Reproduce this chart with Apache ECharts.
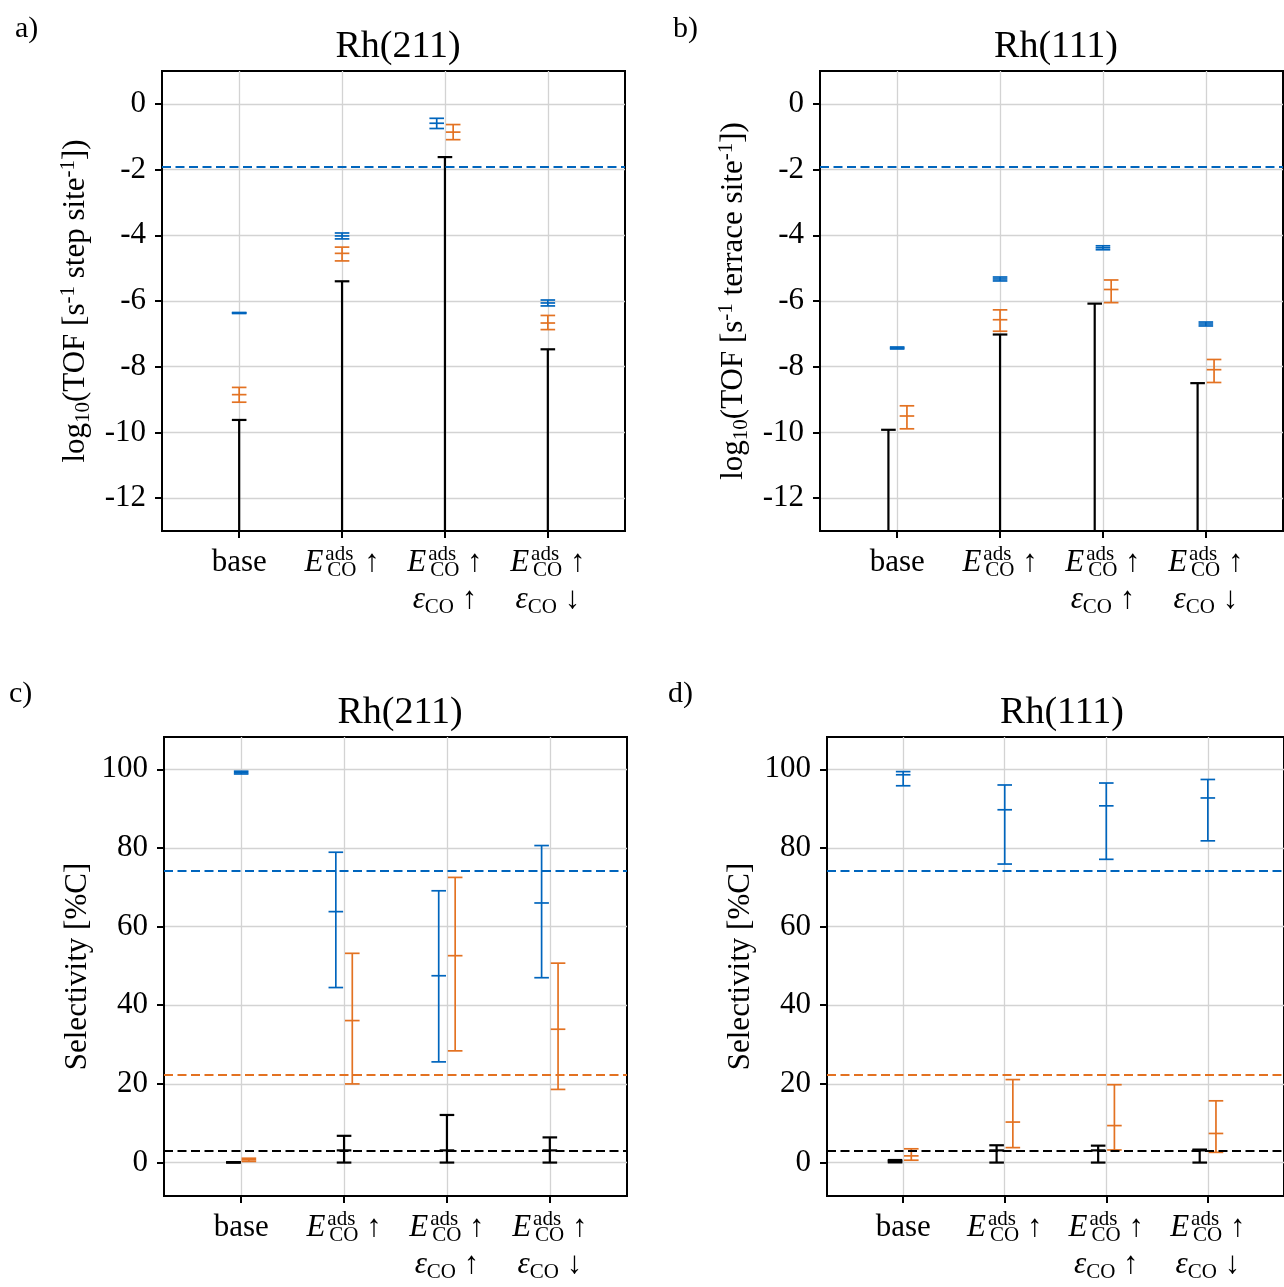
<!DOCTYPE html>
<html>
<head>
<meta charset="utf-8">
<script src="https://cdn.jsdelivr.net/npm/echarts@6/dist/echarts.min.js"></script>
<style>
  html, body { margin: 0; background: #fff; }
  #chart { width: 1284px; height: 1287px; }
</style>
</head>
<body>
<div id="chart"></div>
<script>
// categories and ticks
const categories = ['base', 'Eads_up', 'Eads_up_eps_up', 'Eads_up_eps_down'];
const catTicks = [0, 1, 2, 3];
const tofTicks = [0, -2, -4, -6, -8, -10, -12];
const selTicks = [0, 20, 40, 60, 80, 100];

// error bars as [low, mid, high] per category
const tof211Black = [[-16, -16, -9.62], [-16, -16, -5.40], [-16, -16, -1.62], [-16, -16, -7.47]];
const tof211Blue = [[-6.38, -6.36, -6.35], [-4.11, -4.02, -3.93], [-0.75, -0.59, -0.44], [-6.15, -6.06, -5.97]];
const tof211Orange = [[-9.08, -8.85, -8.63], [-4.78, -4.55, -4.36], [-1.09, -0.86, -0.63], [-6.87, -6.67, -6.44]];

const tof111Black = [[-16, -16, -9.92], [-16, -16, -7.02], [-16, -16, -6.08], [-16, -16, -8.50]];
const tof111Blue = [[-7.46, -7.43, -7.40], [-5.39, -5.33, -5.27], [-4.44, -4.38, -4.32], [-6.76, -6.70, -6.64]];
const tof111Orange = [[-9.89, -9.50, -9.19], [-6.92, -6.57, -6.27], [-6.05, -5.65, -5.36], [-8.48, -8.09, -7.78]];

const sel211Black = [[0, 0.05, 0.1], [0, 3.1, 6.8], [0, 3.1, 12.1], [0, 3.1, 6.4]];
const sel211Blue = [[98.8, 99.15, 99.5], [44.5, 63.8, 78.9], [25.6, 47.5, 69.1], [47.0, 66.0, 80.6]];
const sel211Orange = [[0.3, 0.7, 1.1], [20.0, 36.1, 53.2], [28.4, 52.6, 72.5], [18.6, 33.9, 50.7]];

const sel111Black = [[0.05, 0.35, 0.65], [0, 3.1, 4.4], [0, 3.1, 4.3], [0, 3.1, 3.3]];
const sel111Blue = [[95.8, 98.6, 99.4], [75.9, 89.7, 96.0], [77.1, 90.7, 96.5], [81.8, 92.7, 97.4]];
const sel111Orange = [[0.6, 1.7, 3.5], [3.8, 10.3, 21.1], [3.2, 9.4, 19.8], [2.6, 7.4, 15.7]];

// reference (dashed) levels
const tofRefBlue = -1.92;
const selRefBlue = 74.2;
const selRefOrange = 22.4;
const selRefBlack = 3.1;

// side-by-side dodge of the bars, in category units
const dodge211Tof = { black: [0, 0, 0, 0], blue: [0, 0, -0.08, 0], orange: [0, 0, 0.08, 0] };
const dodge111Tof = { black: [-0.085, 0, -0.08, -0.08], blue: [0, 0, 0, 0], orange: [0.095, 0, 0.08, 0.08] };
const dodge211Sel = { black: [-0.075, 0, 0, 0], blue: [0, -0.08, -0.08, -0.08], orange: [0.075, 0.08, 0.08, 0.08] };
const dodge111Sel = { black: [-0.08, -0.08, -0.08, -0.08], blue: [0, 0, 0, 0], orange: [0.08, 0.08, 0.08, 0.08] };

const BLUE = '#0065BD';
const ORANGE = '#E37222';
const BLACK = '#000000';
const FONT = '"Liberation Serif", "DejaVu Serif", serif';

// first line tokens are laid out from the left so that "ads" and "CO" can stack,
// the second line is centred
const labelText = {
  base: 'base',
  Eads_up: '{it|E}{sup|ads}{sub|CO}{rm| ↑}',
  Eads_up_eps_up: '{it|E}{sup|ads}{sub|CO}{rm| ↑}\n{it2|ε}{sub2|CO}{rm2| ↑}',
  Eads_up_eps_down: '{it|E}{sup|ads}{sub|CO}{rm| ↑}\n{it2|ε}{sub2|CO}{rm2| ↓}'
};

const richLabel = {
  it: { fontStyle: 'italic', fontSize: 31, lineHeight: 37, align: 'left', fontFamily: FONT, color: '#000' },
  rm: { fontSize: 31, lineHeight: 37, align: 'left', fontFamily: FONT, color: '#000' },
  sup: { fontSize: 21, lineHeight: 21, verticalAlign: 'top', align: 'left', width: 2, padding: [0, 0, 0, 2], fontFamily: FONT, color: '#000' },
  sub: { fontSize: 21, lineHeight: 14, verticalAlign: 'bottom', align: 'left', fontFamily: FONT, color: '#000' },
  it2: { fontStyle: 'italic', fontSize: 31, lineHeight: 37, fontFamily: FONT, color: '#000' },
  rm2: { fontSize: 31, lineHeight: 37, fontFamily: FONT, color: '#000' },
  sub2: { fontSize: 21, lineHeight: 16, verticalAlign: 'bottom', fontFamily: FONT, color: '#000' }
};

const richName = {
  sup: { fontSize: 21, lineHeight: 21, verticalAlign: 'top', fontFamily: FONT, color: '#000' },
  sub: { fontSize: 21, lineHeight: 14, verticalAlign: 'bottom', fontFamily: FONT, color: '#000' }
};

const grids = [
  { left: 162, top: 71, width: 463, height: 460 },
  { left: 820, top: 71, width: 463, height: 460 },
  { left: 164, top: 737, width: 463, height: 459 },
  { left: 827, top: 737, width: 462, height: 459 }
];

function toPoints(values, dodge) {
  return values.map((v, i) => [catTicks[i] + dodge[i], v[0], v[1], v[2]]);
}

function errorBar(color, lineWidth, capHalf) {
  return function (params, api) {
    const x = api.value(0);
    const lo = api.coord([x, api.value(1)]);
    const mid = api.coord([x, api.value(2)]);
    const hi = api.coord([x, api.value(3)]);
    const style = { stroke: color, lineWidth: lineWidth };
    const cap = p => ({
      type: 'line',
      shape: { x1: p[0] - capHalf, y1: p[1], x2: p[0] + capHalf, y2: p[1] },
      style: style
    });
    return {
      type: 'group',
      children: [
        { type: 'line', shape: { x1: lo[0], y1: lo[1], x2: hi[0], y2: hi[1] }, style: style },
        cap(lo), cap(mid), cap(hi)
      ]
    };
  };
}

function refLine(color, value) {
  return {
    silent: true,
    symbol: 'none',
    label: { show: false },
    lineStyle: { color: color, type: [9, 4.5], width: 2 },
    data: [{ yAxis: value }]
  };
}

function barSeries(gi, values, dodge, color, width, ref) {
  const s = {
    type: 'custom',
    xAxisIndex: gi,
    yAxisIndex: gi,
    clip: true,
    renderItem: errorBar(color, width, 7.3),
    encode: { x: 0, y: [1, 2, 3] },
    data: toPoints(values, dodge),
    z: 3
  };
  if (ref != null) s.markLine = refLine(color, ref);
  return s;
}

const axisLineStyle = { show: true, onZero: false, lineStyle: { color: '#000', width: 2 } };
const tickStyle = { color: '#000', width: 2 };

function xAxisFor(gi) {
  return {
    type: 'value',
    gridIndex: gi,
    min: -0.75,
    max: 3.75,
    axisLine: axisLineStyle,
    axisTick: { show: true, inside: false, customValues: catTicks, length: 7, lineStyle: tickStyle },
    axisLabel: {
      customValues: catTicks,
      formatter: v => labelText[categories[Math.round(v)]],
      margin: 13,
      color: '#000',
      fontFamily: FONT,
      fontSize: 31,
      lineHeight: 37,
      rich: richLabel
    },
    splitLine: { show: true, lineStyle: { color: '#d3d3d3', width: 1.3 } }
  };
}

function yAxisFor(gi, min, max, ticks, name) {
  return {
    type: 'value',
    gridIndex: gi,
    min: min,
    max: max,
    axisLine: axisLineStyle,
    axisTick: { show: true, inside: false, customValues: ticks, length: 7, lineStyle: tickStyle },
    axisLabel: { customValues: ticks, margin: 16, color: '#000', fontFamily: FONT, fontSize: 31 },
    splitLine: { show: true, lineStyle: { color: '#d3d3d3', width: 1.3 } },
    name: name,
    nameLocation: 'middle',
    nameRotate: 90,
    nameGap: 68,
    nameTextStyle: { color: '#000', fontFamily: FONT, fontSize: 31, lineHeight: 36, rich: richName }
  };
}

const tofName = 'log{sub|10}(TOF [s{sup|-1} step site{sup|-1}])';
const tofName111 = 'log{sub|10}(TOF [s{sup|-1} terrace site{sup|-1}])';
const selName = 'Selectivity [%C]';

const titleStyle = { color: '#000', fontFamily: FONT, fontWeight: 'normal', fontSize: 38, lineHeight: 40 };
const letterStyle = { color: '#000', fontFamily: FONT, fontWeight: 'normal', fontSize: 30, lineHeight: 32 };

const option = {
  backgroundColor: '#fff',
  animation: false,
  title: [
    { text: 'a)', left: 10, top: 8, textStyle: letterStyle },
    { text: 'b)', left: 668, top: 8, textStyle: letterStyle },
    { text: 'c)', left: 4, top: 673, textStyle: letterStyle },
    { text: 'd)', left: 663, top: 673, textStyle: letterStyle },
    { text: 'Rh(211)', left: 393, top: 22, textAlign: 'center', textStyle: titleStyle },
    { text: 'Rh(111)', left: 1051, top: 22, textAlign: 'center', textStyle: titleStyle },
    { text: 'Rh(211)', left: 395, top: 688, textAlign: 'center', textStyle: titleStyle },
    { text: 'Rh(111)', left: 1057, top: 688, textAlign: 'center', textStyle: titleStyle }
  ],
  grid: grids.map(g => Object.assign({ show: true, borderColor: '#000', borderWidth: 2, backgroundColor: 'transparent' }, g)),
  xAxis: [xAxisFor(0), xAxisFor(1), xAxisFor(2), xAxisFor(3)],
  yAxis: [
    yAxisFor(0, -13, 1, tofTicks, tofName),
    yAxisFor(1, -13, 1, tofTicks, tofName111),
    yAxisFor(2, -8.5, 108.2, selTicks, selName),
    yAxisFor(3, -8.5, 108.2, selTicks, selName)
  ],
  series: [
    barSeries(0, tof211Black, dodge211Tof.black, BLACK, 2.2, null),
    barSeries(0, tof211Blue, dodge211Tof.blue, BLUE, 1.7, tofRefBlue),
    barSeries(0, tof211Orange, dodge211Tof.orange, ORANGE, 1.7, null),

    barSeries(1, tof111Black, dodge111Tof.black, BLACK, 2.2, null),
    barSeries(1, tof111Blue, dodge111Tof.blue, BLUE, 1.7, tofRefBlue),
    barSeries(1, tof111Orange, dodge111Tof.orange, ORANGE, 1.7, null),

    barSeries(2, sel211Black, dodge211Sel.black, BLACK, 2.2, selRefBlack),
    barSeries(2, sel211Blue, dodge211Sel.blue, BLUE, 1.7, selRefBlue),
    barSeries(2, sel211Orange, dodge211Sel.orange, ORANGE, 1.7, selRefOrange),

    barSeries(3, sel111Black, dodge111Sel.black, BLACK, 2.2, selRefBlack),
    barSeries(3, sel111Blue, dodge111Sel.blue, BLUE, 1.7, selRefBlue),
    barSeries(3, sel111Orange, dodge111Sel.orange, ORANGE, 1.7, selRefOrange)
  ]
};

const chart = echarts.init(document.getElementById('chart'));
chart.setOption(option);
window.addEventListener('resize', () => {
  chart.resize();
});
</script>
</body>
</html>
